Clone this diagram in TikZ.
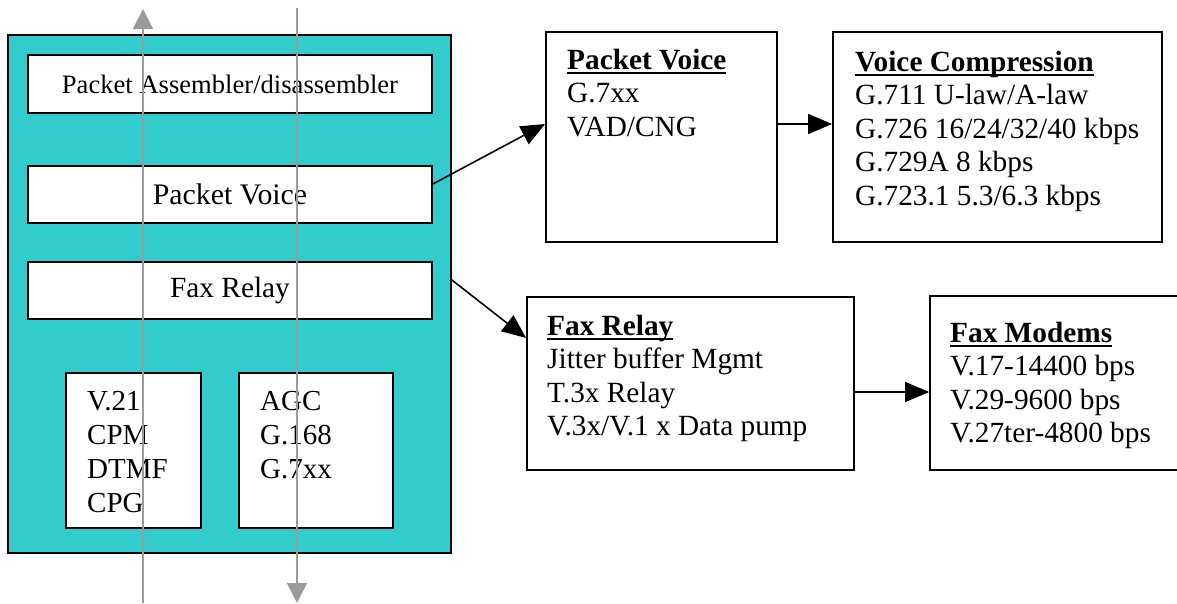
\documentclass[tikz,border=0pt]{standalone}
\usepackage{fontspec}
\setmainfont{Liberation Serif}
\usetikzlibrary{arrows.meta}
\definecolor{tealfill}{RGB}{51,204,204}
\definecolor{flowgray}{RGB}{155,155,155}
\newcommand\mytitle[1]{\setbox0\hbox{\textbf{#1}}\rlap{\rule[-5pt]{\wd0}{2.5pt}}\box0}
\begin{document}
\begin{tikzpicture}[x=1pt,y=-1pt,
  box/.style={draw=black,line width=1.8pt,fill=white,inner sep=0pt,font=\fontsize{29.3}{33.5}\selectfont},
  txt/.style={anchor=north west,inner sep=0pt,align=left,font=\fontsize{29.3}{33.5}\selectfont},
  conn/.style={draw=black,line width=1.6pt,-{Triangle[length=24pt,width=20pt]}},
  flow/.style={draw=flowgray,line width=2pt,-{Triangle[length=20pt,width=20pt]}}]
\useasboundingbox (0,0) rectangle (1177,603);
% left block
\node[box,fill=tealfill,minimum width=443pt,minimum height=518pt] (teal) at (229.5,294) {};
\node[box,minimum width=404pt,minimum height=58pt,font=\fontsize{26.6}{32}\selectfont] (pad) at (230,84) {Packet Assembler/disassembler};
\node[box,minimum width=404pt,minimum height=57pt,font=\fontsize{29.8}{34}\selectfont] (pvin) at (230,194.5) {Packet Voice};
\node[box,minimum width=404pt,minimum height=57pt] (frin) at (230,290.5) {Fax Relay};
\node[box,minimum width=135pt,minimum height=155pt] (sml) at (133.5,450.5) {};
\node[box,minimum width=154pt,minimum height=155pt] (smr) at (316,450.5) {};
\node[txt,font=\fontsize{29}{34}\selectfont] (smltxt) at (87,386.2) {\strut V.21\\CPM\\DTMF\\CPG};
\node[txt,font=\fontsize{29}{34}\selectfont] (smrtxt) at (260,386.2) {\strut AGC\\G.168\\G.7xx};
% right boxes
\node[box,minimum width=231pt,minimum height=210pt] (pvr) at (661.5,137) {};
\node[txt] (pvrtxt) at (567,45.6) {\strut\mytitle{Packet Voice}\\G.7xx\\VAD/CNG};
\node[box,minimum width=329pt,minimum height=210pt] (vc) at (997.5,137) {};
\node[txt] (vctxt) at (855,47.6) {\strut\mytitle{Voice Compression}\\G.711 U-law/A-law\\G.726 16/24/32/40 kbps\\G.729A 8 kbps\\G.723.1 5.3/6.3 kbps};
\node[box,minimum width=327pt,minimum height=173pt] (frr) at (690.5,383.5) {};
\node[txt] (frrtxt) at (547,311.6) {\strut\mytitle{Fax Relay}\\Jitter buffer Mgmt\\T.3x Relay\\V.3x/V.1 x Data pump};
\node[box,minimum width=250pt,minimum height=174pt] (fm) at (1055,383) {};
\node[txt] (fmtxt) at (950,318.6) {\strut\mytitle{Fax Modems}\\V.17-14400 bps\\V.29-9600 bps\\V.27ter-4800 bps};
% connectors
\draw[conn] ([yshift=10.5pt]pvin.east) -- ([yshift=13pt]pvr.west);
\draw[conn] ([yshift=13pt]pvr.east) -- ([yshift=13pt]vc.west);
\draw[conn] ([yshift=14pt]teal.east) -- ([yshift=45.5pt]frr.west);
\draw[conn] ([yshift=-8.5pt]frr.east) -- ([yshift=-9pt]fm.west);
% grey flow arrows
\coordinate (upS) at (143,603);
\coordinate (upE) at (143,9);
\coordinate (dnS) at (297,8);
\coordinate (dnE) at (297,603);
\draw[flow] (upS) -- (upE);
\draw[flow] (dnS) -- (dnE);
\end{tikzpicture}
\end{document}
